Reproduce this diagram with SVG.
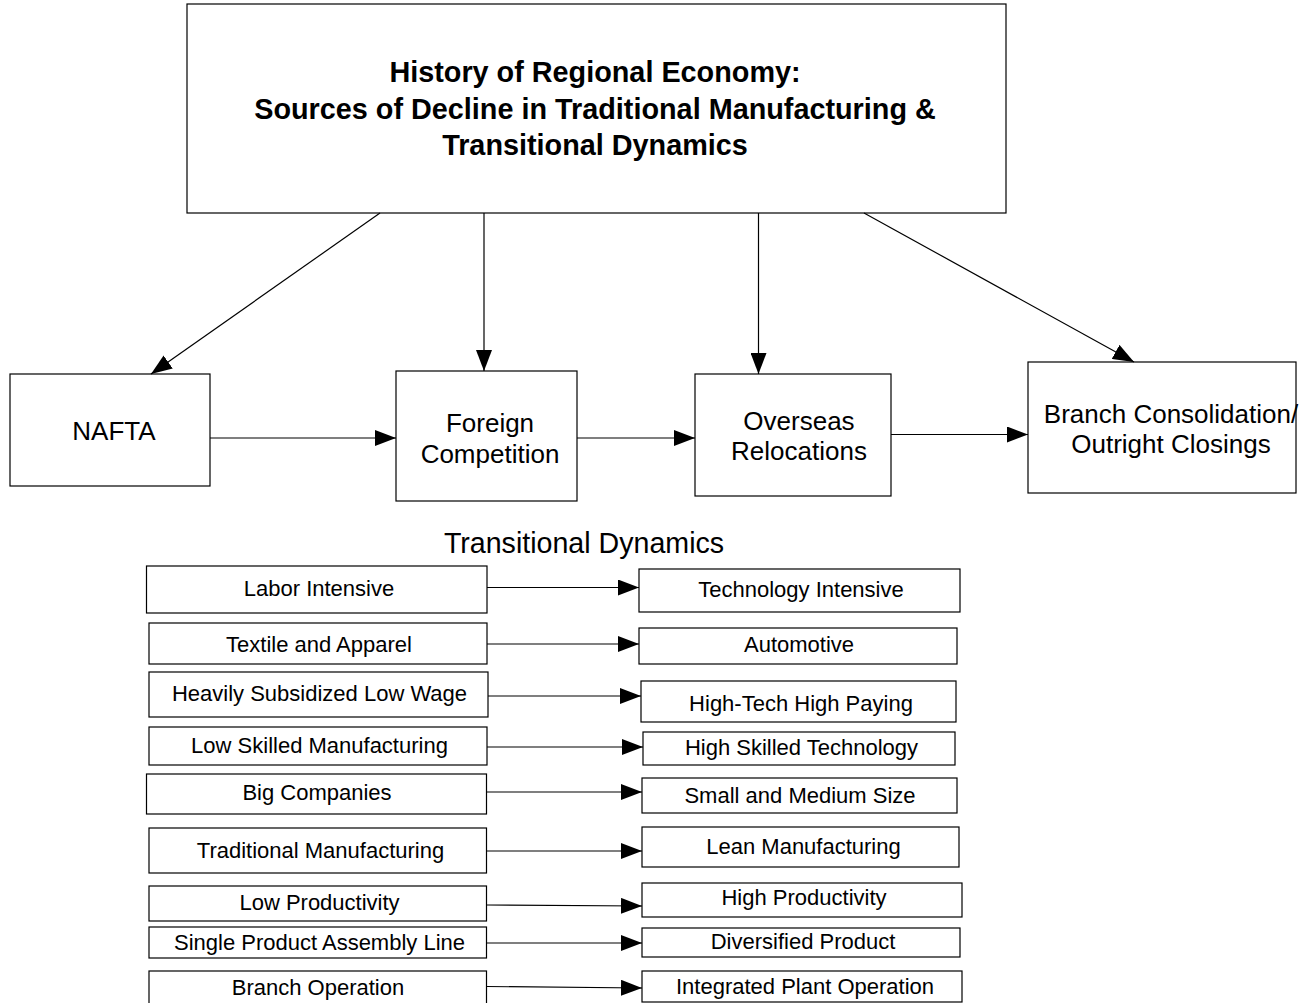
<svg xmlns="http://www.w3.org/2000/svg" width="1303" height="1003" viewBox="0 0 1303 1003">
<style>
.box{fill:#fff;stroke:#000;stroke-width:1.2}
.t{font-family:"Liberation Sans",Arial,sans-serif;fill:#000;text-anchor:middle}
.title{font-size:28.8px;font-weight:bold}
.mid{font-size:26px}
.hdr{font-size:28.6px}
.sm{font-size:22px}
.con line{stroke:#000;stroke-width:1.2;marker-end:url(#ah)}
</style>
<defs>
<marker id="ah" markerUnits="userSpaceOnUse" markerWidth="21" markerHeight="16" refX="21" refY="8" orient="auto">
<path d="M0,0 L21,8 L0,16 Z" fill="#000"/>
</marker>
</defs>
<rect width="1303" height="1003" fill="#fff"/>
<g id="title">
<rect class="box" x="187" y="4" width="819" height="209"/>
<text class="t title" x="595" y="82">History of Regional Economy:</text>
<text class="t title" x="595" y="118.5">Sources of Decline in Traditional Manufacturing &amp;</text>
<text class="t title" x="595" y="155">Transitional Dynamics</text>
</g>
<g id="nafta">
<rect class="box" x="10" y="374" width="200" height="112"/>
<text class="t mid" x="114" y="440">NAFTA</text>
</g>
<g id="foreign">
<rect class="box" x="396" y="371" width="181" height="130"/>
<text class="t mid" x="490" y="431.5">Foreign</text>
<text class="t mid" x="490" y="463">Competition</text>
</g>
<g id="overseas">
<rect class="box" x="695" y="374" width="196" height="122"/>
<text class="t mid" x="799" y="429.5">Overseas</text>
<text class="t mid" x="799" y="460">Relocations</text>
</g>
<g id="branch">
<rect class="box" x="1028" y="362" width="268" height="131"/>
<text class="t mid" x="1171" y="422.5">Branch Consolidation/</text>
<text class="t mid" x="1171" y="452.5">Outright Closings</text>
</g>
<text class="t hdr" x="584" y="553">Transitional Dynamics</text>
<g id="l1"><rect class="box" x="146.5" y="566" width="340.5" height="47"/><text class="t sm" x="319" y="596">Labor Intensive</text></g>
<g id="r1"><rect class="box" x="639" y="569" width="321" height="43"/><text class="t sm" x="801" y="597">Technology Intensive</text></g>
<g id="l2"><rect class="box" x="149" y="623" width="338" height="41"/><text class="t sm" x="319" y="651.5">Textile and Apparel</text></g>
<g id="r2"><rect class="box" x="639" y="628" width="318" height="36"/><text class="t sm" x="799" y="651.5">Automotive</text></g>
<g id="l3"><rect class="box" x="149" y="672" width="339" height="45"/><text class="t sm" x="319.5" y="701">Heavily Subsidized Low Wage</text></g>
<g id="r3"><rect class="box" x="641" y="681" width="315" height="41"/><text class="t sm" x="801" y="711">High-Tech High Paying</text></g>
<g id="l4"><rect class="box" x="149" y="727" width="338" height="38"/><text class="t sm" x="319.5" y="752.5">Low Skilled Manufacturing</text></g>
<g id="r4"><rect class="box" x="643" y="732" width="312" height="33"/><text class="t sm" x="801.5" y="754.5">High Skilled Technology</text></g>
<g id="l5"><rect class="box" x="146.5" y="774" width="340" height="40"/><text class="t sm" x="317" y="800">Big Companies</text></g>
<g id="r5"><rect class="box" x="642" y="778" width="315" height="35"/><text class="t sm" x="800" y="802.5">Small and Medium Size</text></g>
<g id="l6"><rect class="box" x="149" y="828" width="337.5" height="45"/><text class="t sm" x="320.5" y="857.5">Traditional Manufacturing</text></g>
<g id="r6"><rect class="box" x="642" y="827" width="317" height="40"/><text class="t sm" x="803.5" y="853.5">Lean Manufacturing</text></g>
<g id="l7"><rect class="box" x="149" y="886" width="337.5" height="35"/><text class="t sm" x="319.5" y="909.5">Low Productivity</text></g>
<g id="r7"><rect class="box" x="642" y="883" width="320" height="34"/><text class="t sm" x="804" y="905">High Productivity</text></g>
<g id="l8"><rect class="box" x="149" y="927" width="337.5" height="31"/><text class="t sm" x="319.5" y="950">Single Product Assembly Line</text></g>
<g id="r8"><rect class="box" x="642" y="928" width="318" height="29"/><text class="t sm" x="803" y="948.5">Diversified Product</text></g>
<g id="l9"><rect class="box" x="149" y="971" width="337.5" height="40"/><text class="t sm" x="318" y="995">Branch Operation</text></g>
<g id="r9"><rect class="box" x="642" y="971" width="320" height="31"/><text class="t sm" x="805" y="993.5">Integrated Plant Operation</text></g>
<g id="connectors" class="con">
<line x1="380" y1="213" x2="151" y2="374"/>
<line x1="484" y1="213" x2="484" y2="371"/>
<line x1="758.5" y1="213" x2="758.5" y2="374"/>
<line x1="864" y1="213" x2="1134" y2="362"/>
<line x1="210" y1="438" x2="396" y2="438"/>
<line x1="577" y1="438" x2="695" y2="438"/>
<line x1="891" y1="434.5" x2="1028" y2="434.5"/>
<line x1="487" y1="587.5" x2="639" y2="587.5"/>
<line x1="487" y1="644" x2="639" y2="644"/>
<line x1="488" y1="696" x2="641" y2="696"/>
<line x1="487" y1="747" x2="643" y2="747"/>
<line x1="486.5" y1="792" x2="642" y2="792"/>
<line x1="486.5" y1="851" x2="642" y2="851"/>
<line x1="486.5" y1="905" x2="642" y2="906"/>
<line x1="486.5" y1="943" x2="642" y2="943"/>
<line x1="486.5" y1="986.5" x2="642" y2="988"/>
</g>
</svg>
